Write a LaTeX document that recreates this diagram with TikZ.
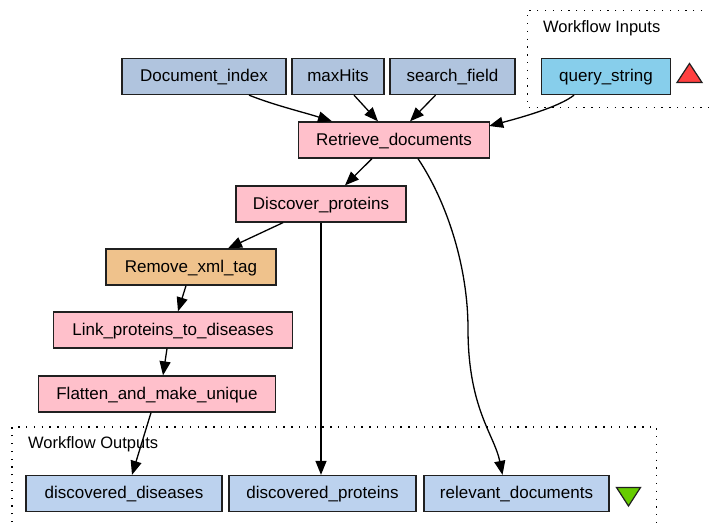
\documentclass[tikz,border=0pt]{standalone}
\usepackage{fontspec}
\setmainfont{Liberation Sans}
\usetikzlibrary{arrows.meta,calc}
\definecolor{inblue}{HTML}{B0C4DE}
\definecolor{qblue}{HTML}{87CEEB}
\definecolor{procpink}{HTML}{FFC0CB}
\definecolor{xmlorange}{HTML}{EFC28C}
\definecolor{outblue}{HTML}{BCD2EE}
\definecolor{trired}{HTML}{FF4040}
\definecolor{trigreen}{HTML}{66CC00}
\definecolor{edgegray}{HTML}{202020}
\tikzset{
  box/.style={draw=edgegray, line width=1.3pt, rectangle, minimum height=36pt, inner sep=0pt,
    font=\fontsize{17}{20}\selectfont, text height=13pt, text depth=3pt},
  inbox/.style={box, fill=inblue},
  qbox/.style={box, fill=qblue},
  pbox/.style={box, fill=procpink},
  xbox/.style={box, fill=xmlorange},
  obox/.style={box, fill=outblue},
  conn/.style={draw=black, line width=1.3pt, -{Triangle[length=14pt,width=11pt]}},
  cluster/.style={draw=black, line width=1.3pt, dash pattern=on 1.3pt off 6.5pt},
  clabel/.style={anchor=west, inner sep=0pt, font=\fontsize{16.5}{20}\selectfont},
  marker/.style={draw=edgegray, line width=1.2pt, line join=miter}
}
\begin{document}
\begin{tikzpicture}[x=1pt,y=-1pt]
\useasboundingbox (0,0) rectangle (709,522);
% clusters
\draw[cluster] (710,10.5) -- (527.5,10.5) -- (527.5,107.5) -- (710,107.5);
\node[clabel] (inlabel) at (543,28.5) {Workflow Inputs};
\draw[cluster] (12,530) -- (12,427) -- (656.5,427) -- (656.5,530);
\node[clabel] (outlabel) at (28,444.5) {Workflow Outputs};
% inputs
\node[inbox, minimum width=164pt] (docidx) at (204,76.5) {Document\_index};
\node[inbox, minimum width=92pt] (maxhits) at (338,76.5) {maxHits};
\node[inbox, minimum width=125pt] (sfield) at (452.5,76.5) {search\_field};
\node[qbox, minimum width=129pt] (qstring) at (606,76.5) {query\_string};
\draw[marker, fill=trired] (677,82.5) -- (702,82.5) -- (689.5,63.5) -- cycle;
% processors
\node[pbox, minimum width=191pt] (retrieve) at (394,140) {Retrieve\_documents};
\node[pbox, minimum width=170pt] (discover) at (321,204) {Discover\_proteins};
\node[xbox, minimum width=170pt] (removexml) at (191,267) {Remove\_xml\_tag};
\node[pbox, minimum width=239pt] (link) at (173,330) {Link\_proteins\_to\_diseases};
\node[pbox, minimum width=237pt] (flatten) at (157,394) {Flatten\_and\_make\_unique};
% outputs
\node[obox, minimum width=196pt] (ddis) at (124,493.5) {discovered\_diseases};
\node[obox, minimum width=187pt] (dprot) at (322.5,493.5) {discovered\_proteins};
\node[obox, minimum width=185pt] (rdocs) at (516.5,493.5) {relevant\_documents};
\draw[marker, fill=trigreen] (616.5,487.5) -- (640.5,487.5) -- (628.5,506) -- cycle;
% edges
\draw[conn] ($(docidx.south)+(45,0)$) .. controls +(25,10) and +(-28,-9) .. ($(retrieve.north)+(-62,0)$);
\draw[conn] ($(maxhits.south)+(16,0)$) -- ($(retrieve.north)+(-16,0)$);
\draw[conn] ($(sfield.south)+(-17,0)$) -- ($(retrieve.north)+(16,0)$);
\draw[conn] ($(qstring.south)+(-32,0)$) .. controls +(-15,12) and +(30,-8) .. ($(retrieve.east)+(-1,-14)$);
\draw[conn] ($(retrieve.south)+(-22,0)$) -- ($(discover.north)+(24,0)$);
\draw[conn] ($(retrieve.south)+(24,0)$) .. controls +(30,45) and +(0,-60) .. ($(retrieve.south)+(74,170)$)
   .. controls +(0,80) and +(-8,-40) .. ($(rdocs.north)+(-14,0)$);
\draw[conn] ($(discover.south)+(-38,0)$) -- ($(removexml.north)+(37,0)$);
\draw[conn] (discover.south) -- (dprot.north -| discover.south);
\draw[conn] ($(removexml.south)+(-5,0)$) -- ($(link.north)+(5,0)$);
\draw[conn] ($(link.south)+(-6,0)$) -- ($(flatten.north)+(6,0)$);
\draw[conn] ($(flatten.south)+(-6,0)$) -- ($(ddis.north)+(8,0)$);
\end{tikzpicture}
\end{document}
